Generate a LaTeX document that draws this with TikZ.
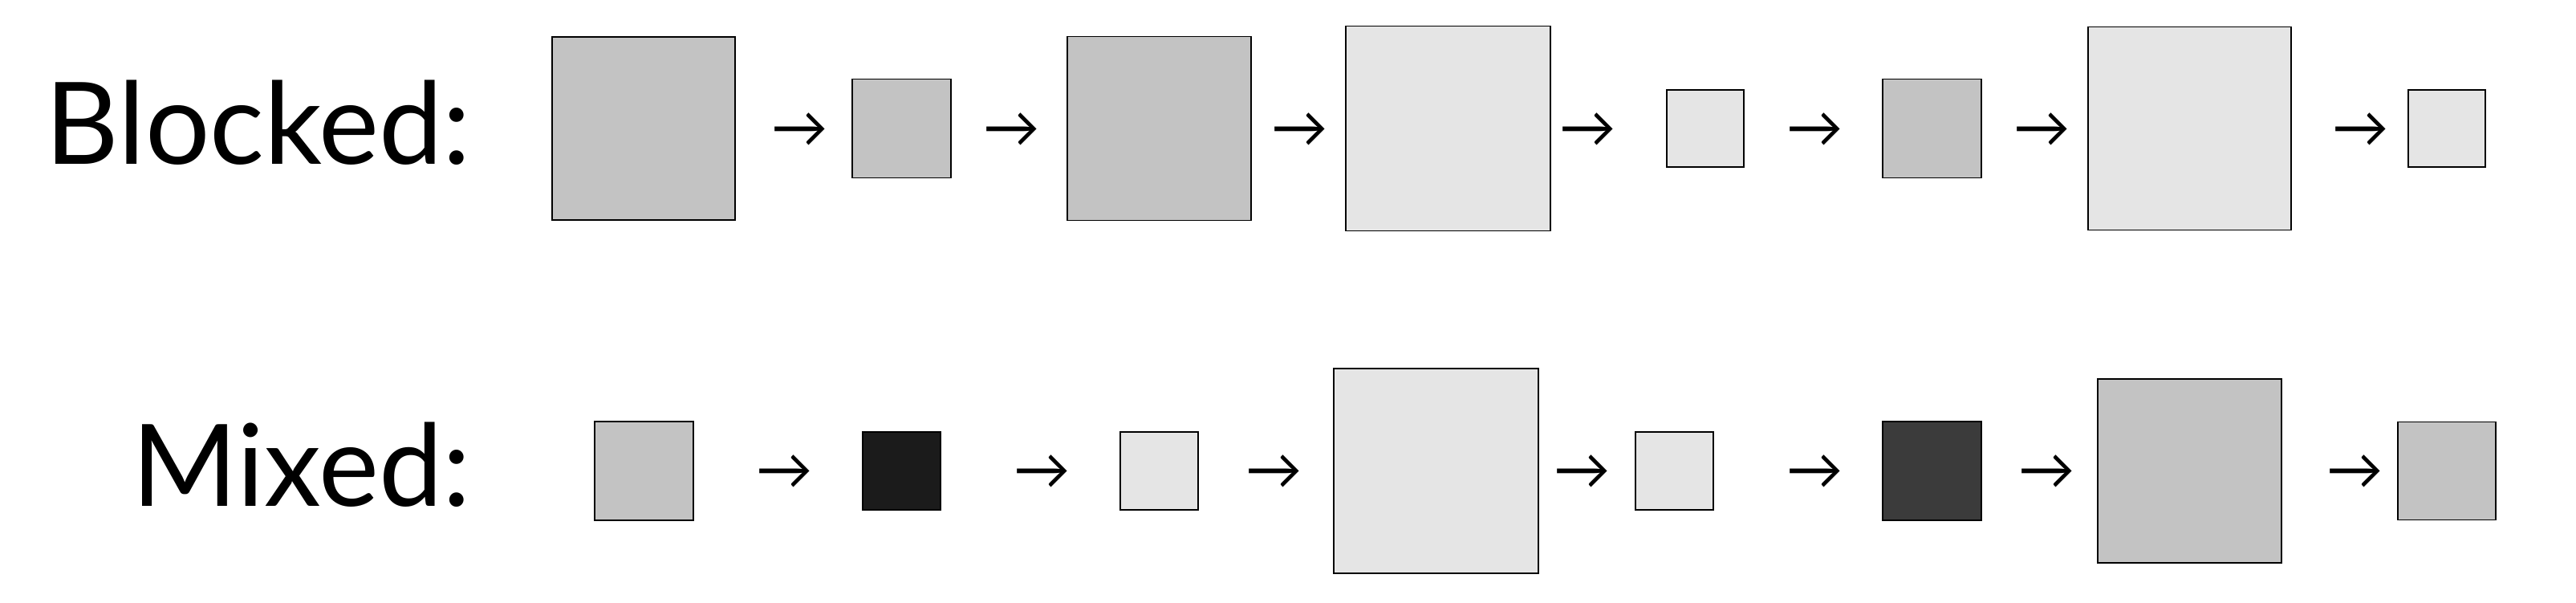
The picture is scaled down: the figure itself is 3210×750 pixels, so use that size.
\documentclass[tikz,border=0pt]{standalone}
\usepackage{fontspec}
\setmainfont{Lato}
\usepackage{tikz}
\definecolor{cellmid}{HTML}{C3C3C3}
\definecolor{celllight}{HTML}{E5E5E5}
\definecolor{cellblack}{HTML}{1B1B1B}
\definecolor{celldark}{HTML}{3B3B3B}
\tikzset{
  cell/.style = {draw = black, line width = 0.4pt, inner sep = 0pt, minimum size = #1*0.25pt},
  rowlabel/.style = {anchor = base east, inner sep = 0pt, font = \fontsize{35.5}{40}\selectfont},
  step arrow/.style = {inner sep = 0pt, font = \fontsize{17.6}{20}\selectfont},
}

\begin{document}
\begin{tikzpicture}[x = 0.25pt, y = -0.25pt]
  \useasboundingbox (0, 0) rectangle (3210, 750);
  \node[rowlabel] at (588, 204) (blocked) {Blocked:};
  \node[rowlabel] at (588, 630) (mixed) {Mixed:};
  % blocked row
  \foreach \x/\s/\c [count = \i] in {802/228/cellmid, 1123.5/123/cellmid, 1444.5/229/cellmid,
    1804.5/255/celllight, 2125/96/celllight, 2407.5/123/cellmid, 2728.5/253/celllight, 3049/96/celllight}
  {
  \node[cell = \s, fill = \c] at (\x, 160) (b\i) {};
  }
  \foreach \x [count = \i] in {997, 1260.5, 1620, 1979, 2262, 2545, 2942}
  {
  \node[step arrow] at (\x, 162.5) (ba\i) {→};
  }
  % mixed row
  \foreach \x/\s/\c [count = \i] in {802.5/123/cellmid, 1123.5/97/cellblack, 1444.5/97/celllight,
    1789.5/255/celllight, 2086.5/97/celllight, 2407.5/123/celldark, 2728.5/229/cellmid, 3049/122/cellmid}
  {
  \node[cell = \s, fill = \c] at (\x, 586.5) (m\i) {};
  }
  \foreach \x [count = \i] in {978, 1299, 1588, 1972, 2262, 2551, 2935}
  {
  \node[step arrow] at (\x, 588.5) (ma\i) {→};
  }
\end{tikzpicture}
\end{document}
